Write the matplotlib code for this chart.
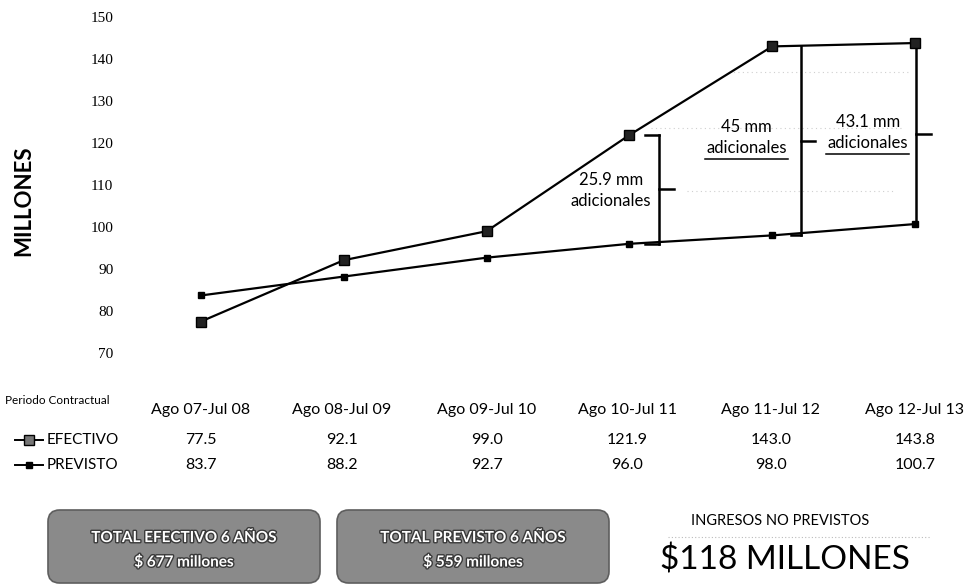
import matplotlib
matplotlib.use("Agg")
import matplotlib.pyplot as plt
import matplotlib.patheffects as pe
from matplotlib.patches import FancyBboxPatch
from matplotlib.lines import Line2D

periods = ["Ago 07-Jul 08", "Ago 08-Jul 09", "Ago 09-Jul 10",
           "Ago 10-Jul 11", "Ago 11-Jul 12", "Ago 12-Jul 13"]
efectivo = [77.5, 92.1, 99.0, 121.9, 143.0, 143.8]
previsto = [83.7, 88.2, 92.7, 96.0, 98.0, 100.7]
y_ticks = [70, 80, 90, 100, 110, 120, 130, 140, 150]

# gaps annotated between the two series: (period index, label)
gaps = [(3, "25.9 mm"), (4, "45 mm"), (5, "43.1 mm")]

total_efectivo = "$ 677 millones"
total_previsto = "$ 559 millones"
ingresos = "$118 MILLONES"

FONT = "Lato"
W, H = 970, 585
fig = plt.figure(figsize=(W / 100, H / 100), dpi=100)


def fx(px):
    return px / W


def fy(py):
    return 1 - py / H


# main plot area
left_px, right_px, top_px, bot_px = 130, 950, 17, 353
ax = fig.add_axes([fx(left_px), fy(bot_px), fx(right_px - left_px), (bot_px - top_px) / H])
unit = (915 - 201) / 5
ax.set_xlim(-(201 - left_px) / unit, 5 + (right_px - 915) / unit)
ax.set_ylim(70, 150)
for s in ax.spines.values():
    s.set_visible(False)
ax.set_xticks([])
ax.set_yticks(y_ticks)
ax.tick_params(axis="y", length=0, pad=12)
for lab in ax.get_yticklabels():
    lab.set_fontfamily("Liberation Serif")
    lab.set_fontsize(11)

# faint dotted guides inside the shaded gap area
for yv, xa, xb in [(137.0, 3.70, 4.95), (123.6, 3.15, 4.90), (108.6, 3.40, 4.85)]:
    ax.plot([xa, xb], [yv, yv], color="#cfcfcf", lw=0.8, ls=(0, (1, 3)), zorder=1)

xs = list(range(len(periods)))
ax.plot(xs, efectivo, color="black", lw=1.6, marker="s", ms=7.5, mfc="#222222", mec="black", zorder=3)
ax.plot(xs, previsto, color="black", lw=1.6, marker="s", ms=4, mfc="black", mec="black", zorder=3)

# brackets marking the extra revenue in the last three periods
bx = {3: 3.21, 4: 4.20, 5: 5.01}
for i, label in gaps:
    x0 = bx[i]
    lo, hi = previsto[i], efectivo[i]
    mid = (lo + hi) / 2
    ax.plot([x0, x0], [lo, hi], color="black", lw=1.8)
    if i == 3:
        ax.plot([x0 - 0.10, x0], [hi, hi], color="black", lw=1.8)
        ax.plot([x0 - 0.10, x0], [lo, lo], color="black", lw=1.8)
    elif i == 4:
        ax.plot([x0 - 0.07, x0], [lo, lo], color="black", lw=1.8)
    ax.plot([x0, x0 + 0.10], [mid, mid], color="black", lw=1.8)

# gap labels: (x, first line y, second line y)
lab_pos = {3: (2.87, 111.2, 106.2), 4: (3.82, 123.8, 118.8), 5: (4.67, 125.0, 120.0)}
for i, label in gaps:
    x, y1, y2 = lab_pos[i]
    ax.text(x, y1, label, ha="center", va="center", fontsize=12, family=FONT)
    ax.text(x, y2, "adicionales", ha="center", va="center", fontsize=12, family=FONT)
    if i in (4, 5):
        ax.plot([x - 0.29, x + 0.29], [y2 - 2.5, y2 - 2.5], color="black", lw=1.1)

# y axis title
fig.text(fx(24), fy(201), "MILLONES", rotation=90, ha="center", va="center",
         fontsize=16, fontweight="bold", family=FONT)

# data table under the chart
col_px = [201, 342, 487, 627, 771, 915]
row_head, row_ef, row_pr = 410, 440, 465
fig.text(fx(5), fy(400), "Periodo Contractual", ha="left", va="center", fontsize=8.5, family=FONT)
for cx, p in zip(col_px, periods):
    fig.text(fx(cx), fy(row_head), p, ha="center", va="center", fontsize=11.5, family=FONT)
for cx, v in zip(col_px, efectivo):
    fig.text(fx(cx), fy(row_ef), f"{v:.1f}", ha="center", va="center", fontsize=11.5, family=FONT)
for cx, v in zip(col_px, previsto):
    fig.text(fx(cx), fy(row_pr), f"{v:.1f}", ha="center", va="center", fontsize=11.5, family=FONT)

# legend keys in the table
for yk, ms, mfc, name in [(row_ef, 6.5, "#777777", "EFECTIVO"), (row_pr, 4, "black", "PREVISTO")]:
    fig.add_artist(Line2D([fx(15), fx(43)], [fy(yk), fy(yk)], color="black", lw=1.4,
                          transform=fig.transFigure))
    fig.add_artist(Line2D([fx(29)], [fy(yk)], marker="s", ms=ms, mfc=mfc, mec="black",
                          transform=fig.transFigure))
    fig.text(fx(47), fy(yk), name, ha="left", va="center", fontsize=11, family=FONT)

# summary boxes
shadow = [pe.withStroke(linewidth=2, foreground="#3a3a3a")]
for (x0, x1), l1, l2 in [((48, 320), "TOTAL EFECTIVO 6 AÑOS", total_efectivo),
                         ((337, 609), "TOTAL PREVISTO 6 AÑOS", total_previsto)]:
    box = FancyBboxPatch((fx(x0), fy(583)), fx(x1 - x0), (583 - 510) / H,
                         boxstyle="round,pad=0,rounding_size=0.012",
                         transform=fig.transFigure, facecolor="#8a8a8a",
                         edgecolor="#5e5e5e", lw=1.2, mutation_aspect=W / H)
    fig.add_artist(box)
    cx = (x0 + x1) / 2
    fig.text(fx(cx), fy(538), l1, ha="center", va="center", fontsize=11,
             fontweight="bold", color="white", family=FONT, path_effects=shadow)
    fig.text(fx(cx), fy(562), l2, ha="center", va="center", fontsize=11,
             fontweight="bold", color="white", family=FONT, path_effects=shadow)

fig.text(fx(780), fy(521), "INGRESOS NO PREVISTOS", ha="center", va="center",
         fontsize=10.5, family=FONT)
fig.add_artist(Line2D([fx(668), fx(930)], [fy(537), fy(537)], color="#bbbbbb", lw=0.8,
                      ls=(0, (1, 2)), transform=fig.transFigure))
fig.text(fx(785), fy(560), ingresos, ha="center", va="center", fontsize=24, family=FONT)

fig.savefig("out.png", dpi=100, facecolor="white")
